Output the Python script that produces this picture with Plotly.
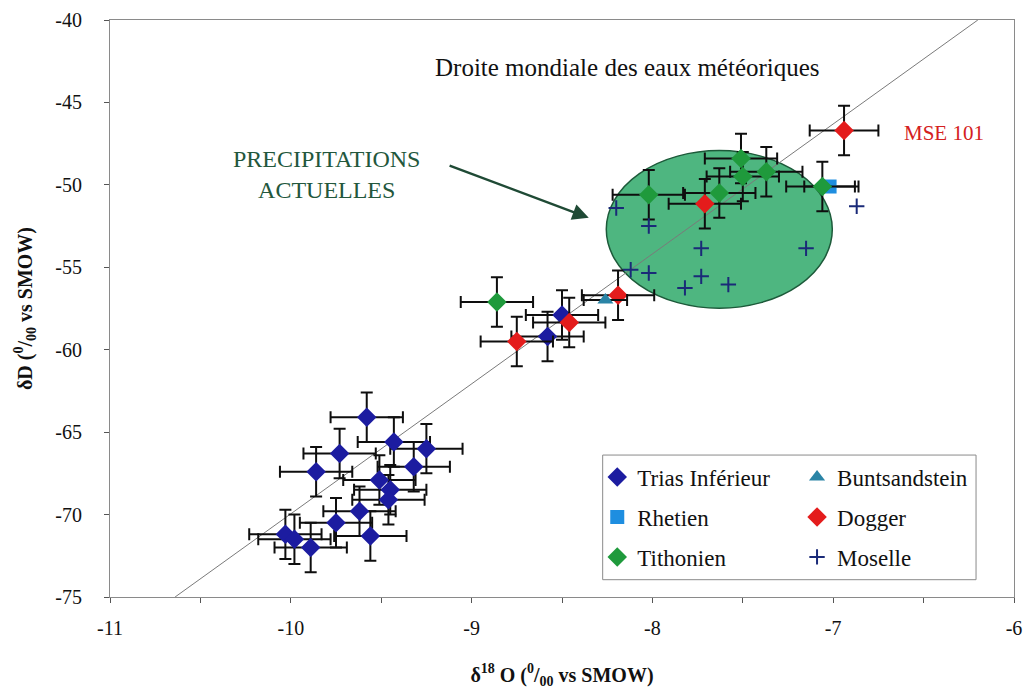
import plotly.graph_objects as go

# ---------------- data ----------------
trias_x = [-9.58, -9.43, -9.25, -9.73, -9.32, -9.86, -9.51, -9.45, -9.46, -9.62, -9.75, -9.56, -10.03, -9.98, -9.89, -8.50, -8.58]
trias_y = [-64.1, -65.6, -66.0, -66.3, -67.1, -67.4, -67.9, -68.5, -69.1, -69.8, -70.5, -71.3, -71.2, -71.5, -72.0, -57.9, -59.2]
trias_xerr = [0.2] * len(trias_x)
trias_yerr = [1.5] * len(trias_x)

bunt_x = [-8.26]
bunt_y = [-56.98]
bunt_xerr = [0.12]

rhet_x = [-7.02]
rhet_y = [-50.1]
rhet_xerr = [0.14]

dogger_x = [-8.75, -8.46, -8.19, -7.71, -6.94]
dogger_y = [-59.5, -58.35, -56.7, -51.15, -46.7]
dogger_xerr = [0.2, 0.2, 0.2, 0.2, 0.19]
dogger_yerr = [1.5, 1.5, 1.5, 1.5, 1.5]

tith_x = [-8.86, -8.02, -7.63, -7.51, -7.50, -7.37, -7.06]
tith_y = [-57.1, -50.6, -50.5, -48.4, -49.5, -49.2, -50.1]
tith_xerr = [0.2] * len(tith_x)
tith_yerr = [1.5] * len(tith_x)

mos_x = [-6.87, -8.20, -8.02, -7.73, -7.15, -8.12, -8.02, -7.73, -7.82, -7.58]
mos_y = [-51.3, -51.4, -52.5, -53.85, -53.85, -55.15, -55.35, -55.55, -56.25, -56.05]

gmwl_x = [-10.64, -6.2]
gmwl_y = [-75.0, -40.0]

# "Précipitations actuelles" ellipse (centre, half-widths) in data units
ell_cx, ell_cy = -7.63, -52.7
ell_rx, ell_ry = 0.625, 4.78

x_ticks = [-11, -10, -9, -8, -7, -6]
y_ticks = [-75, -70, -65, -60, -55, -50, -45, -40]

SERIF = "Liberation Serif, Times New Roman, DejaVu Serif, serif"
ERR = dict(color="#0e0e0e", thickness=2, width=6)

fig = go.Figure()

# meteoric water line
fig.add_trace(go.Scatter(x=gmwl_x, y=gmwl_y, mode="lines",
                         line=dict(color="#7a7a7a", width=1),
                         showlegend=False, hoverinfo="skip"))

def series(name, x, y, symbol, color, size, legend, rank, xerr=None, yerr=None, line=None):
    kw = {}
    if xerr is not None:
        kw["error_x"] = dict(type="data", array=xerr, visible=True, **ERR)
    if yerr is not None:
        kw["error_y"] = dict(type="data", array=yerr, visible=True, **ERR)
    fig.add_trace(go.Scatter(
        x=x, y=y, mode="markers", name=name, legend=legend, legendgroup=name,
        legendrank=rank,
        marker=dict(symbol=symbol, color=color, size=size,
                    line=line if line else dict(width=0)),
        **kw))

series("Trias Inférieur", trias_x, trias_y, "diamond", "#1c1ca0", 15, "legend", 1, trias_xerr, trias_yerr)
series("Rhetien", rhet_x, rhet_y, "square", "#1e8ee0", 14, "legend", 2, rhet_xerr)
series("Dogger", dogger_x, dogger_y, "diamond", "#e41c1c", 15, "legend2", 2, dogger_xerr, dogger_yerr)
series("Tithonien", tith_x, tith_y, "diamond", "#1f9a3c", 15, "legend", 3, tith_xerr, tith_yerr)
series("Buntsandstein", bunt_x, bunt_y, "triangle-up", "#2a84a6", 14, "legend2", 1, bunt_xerr)
series("Moselle", mos_x, mos_y, "cross-thin", "#1a2a78", 11, "legend2", 3,
       line=dict(color="#1a2a78", width=2))

# ellipse
fig.add_shape(type="circle", xref="x", yref="y",
              x0=ell_cx - ell_rx, x1=ell_cx + ell_rx,
              y0=ell_cy - ell_ry, y1=ell_cy + ell_ry,
              fillcolor="rgb(78,182,128)", line=dict(color="#1d5a3a", width=1.5),
              layer="below")

# legend frame
fig.add_shape(type="rect", xref="paper", yref="paper",
              x0=0.545, x1=0.958, y0=0.03, y1=0.246,
              line=dict(color="#8a8a8a", width=1), fillcolor="white", layer="below")

# texts
fig.add_annotation(x=-8.14, y=-42.9, text="Droite mondiale des eaux météoriques",
                   showarrow=False, font=dict(family=SERIF, size=25, color="#111"))
fig.add_annotation(x=-9.80, y=-49.4, text="PRECIPITATIONS<br>ACTUELLES",
                   showarrow=False, font=dict(family=SERIF, size=24, color="#23573c"))
fig.add_annotation(x=-6.385, y=-46.85, text="MSE 101",
                   showarrow=False, font=dict(family=SERIF, size=21, color="#d42020"))
fig.add_annotation(x=-8.352, y=-52.0, ax=-9.13, ay=-48.8, axref="x", ayref="y",
                   xref="x", yref="y", text="", showarrow=True,
                   arrowhead=2, arrowsize=1.3, arrowwidth=2.5, arrowcolor="#1f4a35")

fig.update_layout(
    width=1016, height=681,
    margin=dict(l=102, r=10, t=12, b=92),
    paper_bgcolor="white", plot_bgcolor="white",
    font=dict(family=SERIF, size=20, color="#111"),
    legend=dict(x=0.539, y=0.245, xanchor="left", yanchor="top",
                bgcolor="rgba(0,0,0,0)", font=dict(family=SERIF, size=23),
                tracegroupgap=7, itemwidth=30, traceorder="grouped"),
    legend2=dict(x=0.76, y=0.245, xanchor="left", yanchor="top",
                 bgcolor="rgba(0,0,0,0)", font=dict(family=SERIF, size=23),
                 tracegroupgap=7, itemwidth=30, traceorder="grouped"),
)

fig.update_xaxes(range=[-11, -6], tickvals=x_ticks, ticktext=[str(v) for v in x_ticks],
                 automargin=False,
                 showgrid=False, zeroline=False, showline=True, mirror=True,
                 linecolor="#8a8a8a", linewidth=1,
                 ticks="outside", ticklen=5, tickcolor="#555", ticklabelstandoff=8,
                 minor=dict(dtick=0.5, tick0=-11, ticks="outside", ticklen=5, tickcolor="#555"),
                 title=dict(text="δ<sup>18</sup> O (<sup>0</sup>/<sub>00</sub> vs SMOW)",
                            font=dict(family=SERIF, size=20, weight="bold"), standoff=34))
fig.update_yaxes(range=[-75, -40], tickvals=y_ticks, ticktext=[str(v) for v in y_ticks],
                 automargin=False,
                 showgrid=False, zeroline=False, showline=True, mirror=True,
                 linecolor="#8a8a8a", linewidth=1,
                 ticks="outside", ticklen=5, tickcolor="#555", ticklabelstandoff=18,
                 title=dict(text="δD (<sup>0</sup>/<sub>00</sub> vs SMOW)",
                            font=dict(family=SERIF, size=20, weight="bold"), standoff=17))

fig.write_html("out.html")
